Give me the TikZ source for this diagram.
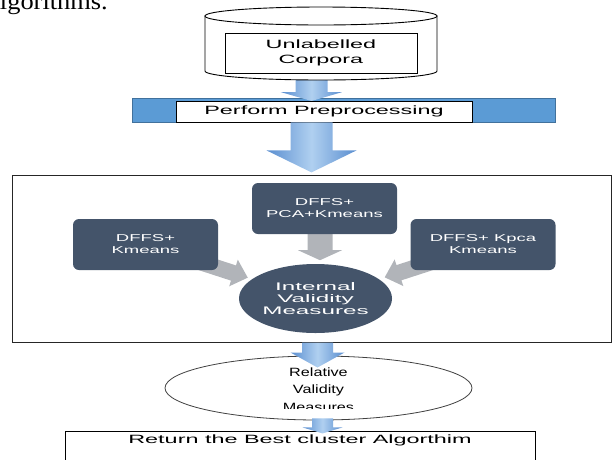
\documentclass[tikz,border=0pt]{standalone}
\usepackage{fontspec}
\setmainfont{Liberation Sans}
\newfontfamily\widefont[FakeStretch=1.95]{Liberation Sans}
\newfontfamily\boxfont[FakeStretch=1.85]{Liberation Sans}
\newfontfamily\circfont[FakeStretch=2.2]{Liberation Sans}
\newfontfamily\ovalfont[FakeStretch=1.35]{Liberation Sans}
\newfontfamily\paperfont[FakeStretch=1.1]{Liberation Serif}
\usepackage{tikz}
\usetikzlibrary{shapes.geometric}
\pgfdeclarelayer{back}
\pgfsetlayers{back,main}
\definecolor{barblue}{HTML}{5B9BD5}
\definecolor{barline}{HTML}{41719C}
\definecolor{arrdark}{HTML}{5A8ED0}
\definecolor{arrlight}{HTML}{B0D0F0}
\definecolor{slate}{HTML}{44546A}
\definecolor{arrgray}{HTML}{B1B4B9}
\tikzset{bluearr/.style={left color=arrdark, right color=arrdark, middle color=arrlight}}
\tikzset{grayarr/.style={fill=arrgray}}
\tikzset{whitebox/.style={draw=black, fill=white, line width=0.8pt, inner sep=0pt}}
\tikzset{darkbox/.style={fill=slate, rounded corners=6pt, text=white, align=center, minimum width=145pt, minimum height=51pt, inner sep=0pt, font=\boxfont\fontsize{10}{12}\selectfont}}
% block arrow pointing down from #2: [scope opts]{start}{style}{length}{shaft half}{head half}{head length}
\newcommand{\blockarrow}[7][]{%
  \begin{scope}[shift={#2},#1]
    \path[#3] (-#5,0) -- (-#5,#4-#7) -- (-#6,#4-#7) -- (0,#4) -- (#6,#4-#7) -- (#5,#4-#7) -- (#5,0) -- cycle;
  \end{scope}}

\begin{document}
\begin{tikzpicture}[x=1pt, y=-1pt]
            \clip (0,0) rectangle (613,459);
            % line of the page above, cut off
            \node[anchor=base east, inner sep=0, font=\paperfont\fontsize{24}{28}\selectfont] (prevline) at (108,9) {algorithms.};
            % corpora and preprocessing
            \node[fill=barblue, draw=barline, line width=0.8pt, minimum width=423pt, minimum height=24pt, inner sep=0] (bar) at (343.5,110.5) {};
            \coordinate (cylbot) at (321,80);
            \blockarrow{([xshift=-9.5pt,yshift=8pt]cylbot)}{bluearr}{29}{16}{31}{9}
            \draw[line width=0.9pt, fill=white] (205,16) -- (205,71) arc[start angle=180, end angle=0, x radius=116, y radius=9] -- (437,16) -- cycle;
            \draw[line width=0.9pt, fill=white] (321,16) ellipse[x radius=116, y radius=9];
            \node[whitebox, minimum width=192pt, minimum height=40pt, align=center, font=\widefont\fontsize{12}{15}\selectfont] (corpus) at (321,53) {Unlabelled\\Corpora};
            \node[whitebox, minimum width=296pt, minimum height=21pt, font=\widefont\fontsize{12}{15}\selectfont] (prep) at (324,111.5) {Perform Preprocessing};
            \blockarrow{([xshift=-12.5pt]prep.south)}{bluearr}{50}{21}{45}{22}
            % clustering
            \node[draw=black!85, line width=1pt, minimum width=599pt, minimum height=167pt, inner sep=0] (frame) at (311.5,258.5) {};
            \node[darkbox] (pca) at (324.5,208.5) {DFFS+\\PCA+Kmeans};
            \node[darkbox] (dkm) at (145.5,244.5) {DFFS+\\Kmeans};
            \node[darkbox] (kpca) at (483,244.5) {DFFS+ Kpca\\Kmeans};
            \begin{pgfonlayer}{back}
                \blockarrow{([xshift=-4.5pt]pca.south)}{grayarr}{26}{12.5}{22}{10}
                \blockarrow[rotate=72]{([xshift=-18pt,yshift=8pt]dkm.south east)}{grayarr}{50}{8}{14}{15}
                \blockarrow[rotate=-72]{([xshift=21pt,yshift=8pt]kpca.south west)}{grayarr}{49}{8}{14}{15}
            \end{pgfonlayer}
            \node[ellipse, fill=slate, minimum width=153pt, minimum height=69pt, inner sep=0, text=white, align=center, font=\circfont\fontsize{11}{12}\selectfont] (ivm) at (315.5,298.5) {Internal\\Validity\\Measures};
            % relative measures and result
            \node[ellipse, draw=black!75, fill=white, line width=0.8pt, minimum width=307pt, minimum height=64pt, inner sep=0] (rvm) at (318.5,388) {};
            \begin{scope}
                \clip ([yshift=40pt]rvm.west) rectangle ([yshift=-20pt]rvm.east);
                \node[align=center, font=\ovalfont\fontsize{12}{17.5}\selectfont] (rvmtext) at (318.5,389.5) {Relative\\Validity\\Measures};
            \end{scope}
            \blockarrow{([xshift=6pt]frame.south)}{bluearr}{25}{15.5}{27}{15}
            \node[whitebox, minimum width=470pt, minimum height=44pt, anchor=north] (best) at (300,431) {};
            \blockarrow{([xshift=4pt,yshift=2pt]rvm.south)}{bluearr}{15}{10.5}{20}{6}
            \node[font=\widefont\fontsize{12}{15}\selectfont] (besttext) at (300,440) {Return the Best cluster Algorthim};
        \end{tikzpicture}
\end{document}
